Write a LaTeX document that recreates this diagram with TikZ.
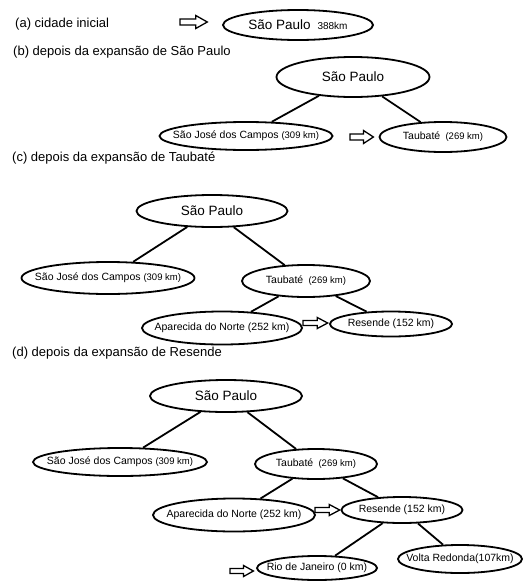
\documentclass[tikz,border=0pt]{standalone}
\usepackage{fontspec}
\setmainfont{Liberation Sans}
\usetikzlibrary{shapes.geometric}
\newcommand{\ctxt}[1]{\makebox[0pt][c]{#1}}
\newcommand{\smkm}{\fontsize{9.5}{10}\selectfont}
\begin{document}
\begin{tikzpicture}[x=1pt,y=-1pt,
  city/.style={ellipse, draw, line width=1.8pt, inner sep=0pt, font=\fontsize{10.5}{12}\selectfont},
  big/.style={city, font=\fontsize{13.5}{15}\selectfont},
  edge/.style={line width=1.8pt},
  lbl/.style={anchor=west, inner sep=0pt, font=\fontsize{13}{15}\selectfont},
  hollowarrow/.pic={\draw[line width=1.3pt, line join=miter] (0,-3) -- (15,-3) -- (15,-6.5) -- (26,0) -- (15,6.5) -- (15,3) -- (0,3) -- cycle;}]
\useasboundingbox (0,0) rectangle (531,581);

% (a)
\node[lbl] (la) at (15,24) {(a) cidade inicial};
\pic[xscale=1.05] (arra) at (180,22) {hollowarrow};
\node[big, minimum width=150pt, minimum height=30pt] (spa) at (298,25) {\ctxt{São Paulo\enspace{\fontsize{10}{11}\selectfont 388km}}};

% (b)
\node[lbl] (lb) at (13,52) {(b) depois da expansão de São Paulo};
\node[big, minimum width=153pt, minimum height=40pt] (spb) at (353,77) {\ctxt{São Paulo}};
\node[city, minimum width=173pt, minimum height=28pt] (sjb) at (246,136) {\ctxt{São José dos Campos {\smkm(309 km)}}};
\pic[xscale=0.9] (arrb) at (350,137) {hollowarrow};
\node[city, minimum width=127pt, minimum height=30pt] (tab) at (443,137) {\ctxt{Taubaté\enspace{\smkm(269 km)}}};
\draw[edge] (spb) -- (sjb);
\draw[edge] (spb) -- (tab);

% (c)
\node[lbl] (lc) at (12,158) {(c) depois da expansão de Taubaté};
\node[big, minimum width=151pt, minimum height=32pt] (spc) at (212,211) {\ctxt{São Paulo}};
\node[city, minimum width=173pt, minimum height=32pt] (sjc) at (108,278) {\ctxt{São José dos Campos {\smkm(309 km)}}};
\node[city, minimum width=128pt, minimum height=32pt] (tac) at (306,281) {\ctxt{Taubaté\enspace{\smkm(269 km)}}};
\node[city, minimum width=160pt, minimum height=33pt] (apc) at (222,328) {\ctxt{Aparecida do Norte (252 km)}};
\pic[xscale=0.95, yscale=0.85] (arrc) at (303,323) {hollowarrow};
\node[city, minimum width=122pt, minimum height=25pt] (rec) at (391,324) {\ctxt{Resende (152 km)}};
\draw[edge] (spc) -- (sjc);
\draw[edge] (spc) -- (tac);
\draw[edge] (tac) -- (apc);
\draw[edge] (tac) -- (rec);

% (d)
\node[lbl] (ld) at (12,353) {(d) depois da expansão de Resende};
\node[big, minimum width=152pt, minimum height=32pt] (spd) at (226,396) {\ctxt{São Paulo}};
\node[city, minimum width=174pt, minimum height=28pt] (sjd) at (120,462) {\ctxt{São José dos Campos {\smkm(309 km)}}};
\node[city, minimum width=122pt, minimum height=30pt] (tad) at (316,464) {\ctxt{Taubaté\enspace{\smkm(269 km)}}};
\node[city, minimum width=162pt, minimum height=33pt] (apd) at (234,515) {\ctxt{Aparecida do Norte (252 km)}};
\pic[xscale=0.95, yscale=0.85] (arrd) at (315,510) {hollowarrow};
\node[city, minimum width=121pt, minimum height=26pt] (red) at (402,510) {\ctxt{Resende (152 km)}};
\node[city, minimum width=120pt, minimum height=24pt] (rio) at (317,568) {\ctxt{Rio de Janeiro (0 km)}};
\pic[xscale=0.9, yscale=0.85] (arre) at (230,571) {hollowarrow};
\node[city, minimum width=124pt, minimum height=28pt] (vr) at (460,559) {\ctxt{Volta Redonda(107km)}};
\draw[edge] (spd) -- (sjd);
\draw[edge] (spd) -- (tad);
\draw[edge] (tad) -- (apd);
\draw[edge] (tad) -- (red);
\draw[edge] (red) -- (rio);
\draw[edge] (red) -- (vr);
\end{tikzpicture}
\end{document}
